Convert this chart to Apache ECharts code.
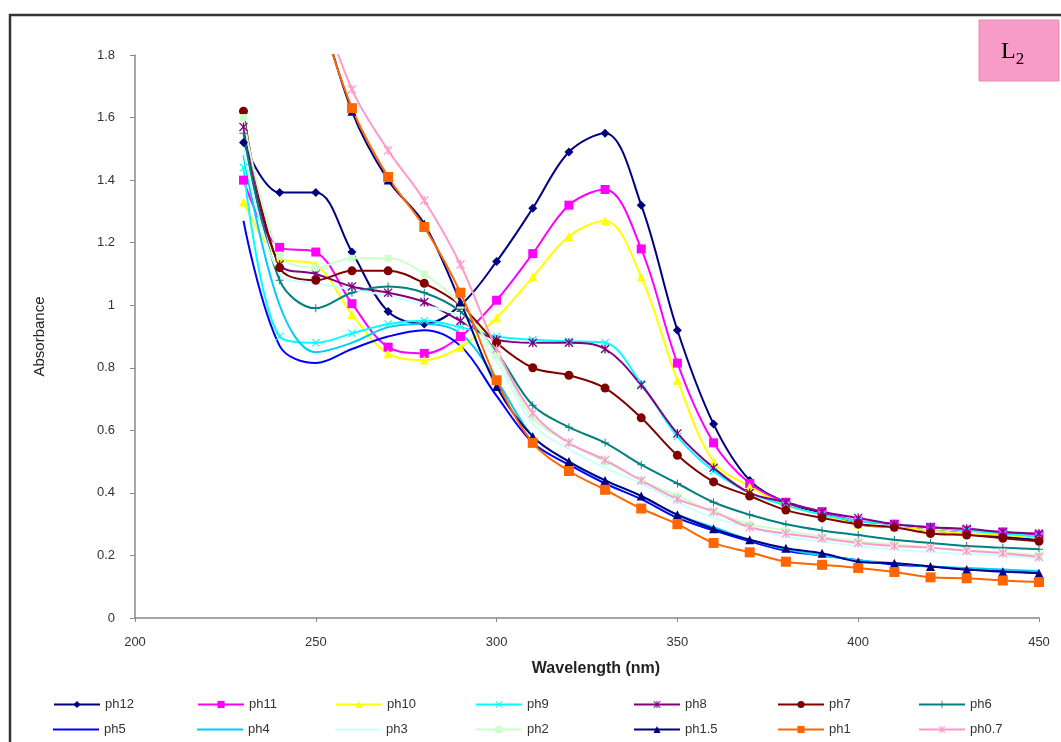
<!DOCTYPE html>
<html>
<head>
<meta charset="utf-8">
<script src="https://cdn.jsdelivr.net/npm/echarts@6/dist/echarts.min.js"></script>
<style>
  html, body { margin: 0; padding: 0; background: #fff; }
  #chart { width: 1061px; height: 742px; }
</style>
</head>
<body>
<div id="chart"></div>
<script>
// Wavelength grid (nm)
const wavelengths = [230, 240, 250, 260, 270, 280, 290, 300, 310, 320, 330, 340,
                     350, 360, 370, 380, 390, 400, 410, 420, 430, 440, 450];

// Absorbance spectra at each pH
const ph12  = [1.52, 1.36, 1.36, 1.17, 0.98, 0.94, 1.00, 1.14, 1.31, 1.49, 1.55, 1.32, 0.92, 0.62, 0.44, 0.37, 0.335, 0.30, 0.29, 0.28, 0.27, 0.26, 0.25];
const ph11  = [1.40, 1.185, 1.17, 1.005, 0.866, 0.846, 0.90, 1.016, 1.165, 1.32, 1.37, 1.18, 0.815, 0.56, 0.43, 0.37, 0.34, 0.31, 0.30, 0.29, 0.28, 0.275, 0.265];
const ph10  = [1.33, 1.15, 1.13, 0.97, 0.845, 0.825, 0.866, 0.96, 1.09, 1.22, 1.27, 1.09, 0.76, 0.50, 0.42, 0.36, 0.33, 0.30, 0.29, 0.28, 0.27, 0.265, 0.255];
const ph9   = [1.44, 0.90, 0.88, 0.91, 0.94, 0.95, 0.93, 0.90, 0.89, 0.885, 0.88, 0.75, 0.58, 0.47, 0.40, 0.36, 0.33, 0.31, 0.30, 0.29, 0.28, 0.27, 0.26];
const ph8   = [1.57, 1.13, 1.10, 1.06, 1.04, 1.01, 0.95, 0.89, 0.88, 0.88, 0.86, 0.745, 0.59, 0.48, 0.40, 0.37, 0.34, 0.32, 0.30, 0.29, 0.285, 0.275, 0.27];
const ph7   = [1.62, 1.12, 1.08, 1.11, 1.11, 1.07, 1.00, 0.88, 0.80, 0.776, 0.735, 0.64, 0.52, 0.435, 0.39, 0.345, 0.32, 0.30, 0.29, 0.27, 0.265, 0.255, 0.245];
const ph6   = [1.55, 1.08, 0.99, 1.04, 1.06, 1.04, 0.98, 0.85, 0.68, 0.61, 0.56, 0.49, 0.43, 0.37, 0.33, 0.30, 0.28, 0.265, 0.25, 0.24, 0.23, 0.225, 0.22];
const ph5   = [1.27, 0.87, 0.815, 0.86, 0.90, 0.92, 0.87, 0.71, 0.56, 0.49, 0.43, 0.38, 0.32, 0.28, 0.245, 0.215, 0.20, 0.185, 0.17, 0.165, 0.155, 0.15, 0.145];
const ph4   = [1.48, 1.00, 0.85, 0.88, 0.93, 0.94, 0.91, 0.76, 0.58, 0.50, 0.44, 0.39, 0.33, 0.29, 0.25, 0.22, 0.20, 0.185, 0.175, 0.165, 0.16, 0.155, 0.15];
const ph3   = [1.50, 1.10, 1.07, 1.05, 1.03, 1.00, 0.96, 0.82, 0.62, 0.54, 0.48, 0.43, 0.37, 0.32, 0.29, 0.26, 0.245, 0.23, 0.22, 0.21, 0.205, 0.20, 0.19];
const ph2   = [1.60, 1.16, 1.12, 1.15, 1.15, 1.10, 1.00, 0.84, 0.64, 0.56, 0.50, 0.44, 0.39, 0.34, 0.30, 0.28, 0.26, 0.245, 0.235, 0.225, 0.215, 0.21, 0.20];
const ph1_5 = [null, null, 2.00, 1.62, 1.40, 1.26, 1.01, 0.74, 0.58, 0.50, 0.44, 0.39, 0.33, 0.285, 0.25, 0.223, 0.207, 0.18, 0.175, 0.165, 0.155, 0.148, 0.143];
const ph1   = [null, null, 1.98, 1.63, 1.41, 1.25, 1.04, 0.76, 0.56, 0.47, 0.41, 0.35, 0.30, 0.24, 0.21, 0.18, 0.17, 0.16, 0.147, 0.13, 0.127, 0.12, 0.115];
const ph0_7 = [null, null, 2.02, 1.69, 1.495, 1.335, 1.13, 0.86, 0.655, 0.56, 0.505, 0.44, 0.38, 0.34, 0.29, 0.27, 0.255, 0.24, 0.23, 0.225, 0.215, 0.207, 0.195];

// Axis ticks
const xTicks = { min: 200, max: 450, interval: 50 };
const yTicks = { min: 0, max: 1.8, interval: 0.2 };

// Marker shapes
const xMark    = 'path://M0,1L1,0L5,4L9,0L10,1L6,5L10,9L9,10L5,6L1,10L0,9L4,5Z';
const starMark = 'path://M0,1L1,0L5,4L9,0L10,1L6,5L10,9L9,10L5,6L1,10L0,9L4,5Z M4.3,0L5.7,0L5.7,10L4.3,10Z';
const plusMark = 'path://M4.4,0L5.6,0L5.6,4.4L10,4.4L10,5.6L5.6,5.6L5.6,10L4.4,10L4.4,5.6L0,5.6L0,4.4L4.4,4.4Z';
const plainLine = 'path://M0,0L46,0L46,2L0,2Z';

const seriesDefs = [
  { name: 'ph12',  data: ph12,  color: '#000080', symbol: 'diamond',  size: 9 },
  { name: 'ph11',  data: ph11,  color: '#FF00FF', symbol: 'rect',     size: 9 },
  { name: 'ph10',  data: ph10,  color: '#FFFF00', symbol: 'triangle', size: 9 },
  { name: 'ph9',   data: ph9,   color: '#00FFFF', symbol: xMark,      size: 8 },
  { name: 'ph8',   data: ph8,   color: '#800080', symbol: starMark,   size: 9 },
  { name: 'ph7',   data: ph7,   color: '#800000', symbol: 'circle',   size: 9 },
  { name: 'ph6',   data: ph6,   color: '#008080', symbol: plusMark,   size: 8 },
  { name: 'ph5',   data: ph5,   color: '#0000FF', symbol: 'none',     size: 0 },
  { name: 'ph4',   data: ph4,   color: '#00CCFF', symbol: 'none',     size: 0 },
  { name: 'ph3',   data: ph3,   color: '#CCFFFF', symbol: 'none',     size: 0 },
  { name: 'ph2',   data: ph2,   color: '#CCFFCC', symbol: 'rect',     size: 7 },
  { name: 'ph1.5', data: ph1_5, color: '#000080', symbol: 'triangle', size: 9 },
  { name: 'ph1',   data: ph1,   color: '#FF6600', symbol: 'rect',     size: 10 },
  { name: 'ph0.7', data: ph0_7, color: '#FF99CC', symbol: starMark,   size: 9 }
];

const FONT = '"Liberation Sans", Arial, sans-serif';

const series = seriesDefs.map(d => ({
  name: d.name,
  type: 'line',
  smooth: 0.35,
  clip: true,
  data: wavelengths.map((w, i) => [w, d.data[i]]),
  symbol: d.symbol,
  symbolSize: d.size,
  showSymbol: d.symbol !== 'none',
  connectNulls: false,
  lineStyle: { color: d.color, width: 2 },
  itemStyle: { color: d.color },
  emphasis: { disabled: true }
}));

// Legend laid out as a 7 x 2 table under the axis
const legendCols = [53, 197, 335, 475, 633, 777, 918];
const legendRows = [698, 723];
const legends = seriesDefs.map((d, i) => {
  const noMarker = d.symbol === 'none';
  return {
    data: [noMarker ? { name: d.name, icon: plainLine } : d.name],
    left: legendCols[i % 7],
    top: legendRows[Math.floor(i / 7)],
    itemWidth: 46,
    itemHeight: noMarker ? 2 : 9,
    padding: 0,
    selectedMode: false,
    textStyle: { fontFamily: FONT, fontSize: 13, color: '#333' }
  };
});

const chart = echarts.init(document.getElementById('chart'), null, { renderer: 'canvas' });
chart.setOption({
  backgroundColor: '#fff',
  animation: false,
  grid: { left: 135, right: 22, top: 55, bottom: 124, containLabel: false },
  legend: legends,
  xAxis: {
    type: 'value',
    min: xTicks.min, max: xTicks.max, interval: xTicks.interval,
    name: 'Wavelength (nm)',
    nameLocation: 'middle',
    nameGap: 43,
    nameTextStyle: { fontFamily: FONT, fontSize: 16, fontWeight: 'bold', color: '#222', padding: [0, 0, 0, 18] },
    axisLine: { show: true, lineStyle: { color: '#888', width: 1.5 } },
    axisTick: { show: true, length: 4, lineStyle: { color: '#888' } },
    axisLabel: { fontFamily: FONT, fontSize: 13, color: '#333', margin: 18 },
    splitLine: { show: false }
  },
  yAxis: {
    type: 'value',
    min: yTicks.min, max: yTicks.max, interval: yTicks.interval,
    name: 'Absorbance',
    nameLocation: 'middle',
    nameGap: 88,
    nameRotate: 90,
    nameTextStyle: { fontFamily: FONT, fontSize: 15, color: '#222' },
    axisLine: { show: true, lineStyle: { color: '#888', width: 1.5 } },
    axisTick: { show: true, length: 5, lineStyle: { color: '#888' } },
    axisLabel: { fontFamily: FONT, fontSize: 13, color: '#333', margin: 20 },
    splitLine: { show: false }
  },
  graphic: [
    {
      type: 'rect',
      shape: { x: 10, y: 15, width: 1100, height: 800 },
      style: { fill: 'none', stroke: '#333', lineWidth: 2.5 },
      silent: true, z: 100
    },
    {
      type: 'rect',
      shape: { x: 979, y: 20, width: 80, height: 61 },
      style: { fill: '#F79BC9', stroke: '#E88AB8', lineWidth: 1 },
      silent: true
    },
    {
      type: 'text',
      x: 1001, y: 35,
      style: {
        text: '{l|L}{s|2}',
        rich: {
          l: { fontFamily: '"Liberation Serif", "DejaVu Serif", serif', fontSize: 24, color: '#3a1020' },
          s: { fontFamily: '"Liberation Serif", "DejaVu Serif", serif', fontSize: 17, color: '#3a1020', padding: [16, 0, 0, 0] }
        }
      },
      silent: true
    }
  ],
  series: series
});
</script>
</body>
</html>
